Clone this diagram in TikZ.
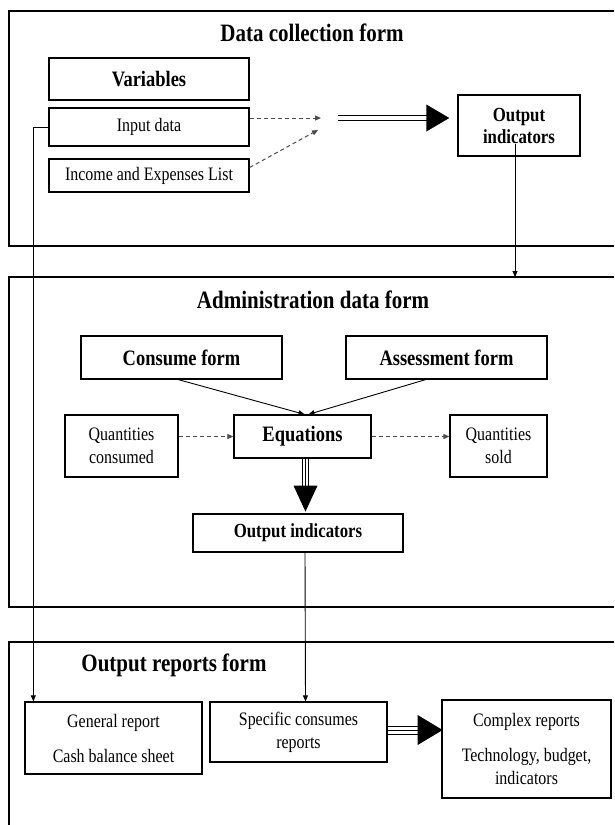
\documentclass[tikz,border=0pt]{standalone}
\usepackage{fontspec}
\setmainfont{Liberation Serif}[FakeStretch=0.84]
\usetikzlibrary{arrows.meta,calc}

\begin{document}
\begin{tikzpicture}[x=1pt,y=-1pt,>={Triangle[length=6pt,width=5pt]},
  frame/.style={line width=1.1pt},
  box/.style={draw,line width=1.3pt,inner sep=1pt,align=center},
  txt/.style={font=\fontsize{19}{23}\selectfont},
  btxt/.style={font=\bfseries\fontsize{22}{24}\selectfont},
  title/.style={font=\bfseries\fontsize{25}{27}\selectfont},
  dasharr/.style={->,dash pattern=on 4pt off 3pt,line width=1pt,black!70},
  dbl/.style={double,double distance=4pt,line width=1.1pt}]
  \useasboundingbox (0,0) rectangle (614,825);
  % Frames (open at the right)
  \draw[frame] (614,11) -- (9,11) -- (9,246) -- (614,246);
  \draw[frame] (614,277) -- (9,277) -- (9,607) -- (614,607);
  \draw[frame] (614,642) -- (9,642) -- (9,825);
  % Data collection form
  \node[title] at (312,33) {Data collection form};
  \node[box,btxt,minimum width=200,minimum height=42] (var) at (149,79) {Variables};
  \node[box,txt,minimum width=200,minimum height=38] (in) at (149,127) {Input data};
  \node[box,txt,minimum width=200,minimum height=33] (inc) at (149,175.5) {Income and Expenses List};
  \node[box,font=\bfseries\fontsize{20}{22}\selectfont,minimum width=122,minimum height=61] (out1) at (519,125.5) {Output\\indicators};
  \coordinate (join1) at (321,118);
  \coordinate (join2) at (318,130);
  \coordinate (dstart) at (338,118);
  \draw[dasharr] (in.east |- join1) -- (join1);
  \draw[dasharr] ($(inc.east)+(0,-8)$) -- (join2);
  \draw[dbl] (dstart) -- ($(dstart -| out1.west)+(-30,0)$);
  \fill ($(dstart -| out1.west)+(-8,0)$) -- ++(-23,-13.5) -- ++(0,27) -- cycle;
  % Administration data form
  \coordinate (f2top) at (515,277);
  \draw[->,line width=0.9pt] ($(out1.south)+(-4,-13)$) -- (f2top);
  \node[title] at (313,300) {Administration data form};
  \node[box,btxt,minimum width=201,minimum height=43] (cons) at (181.5,357.5) {Consume form};
  \node[box,btxt,minimum width=201,minimum height=43] (ass) at (446.5,357.5) {Assessment form};
  \node[box,txt,minimum width=113,minimum height=62] (qc) at (121.5,446) {Quantities\\consumed};
  \node[box,btxt,minimum width=137,minimum height=43] (eq) at (302.5,436.5) {Equations};
  \node[box,txt,minimum width=97,minimum height=62] (qs) at (498.5,446) {Quantities\\sold};
  \node[box,font=\bfseries\fontsize{20}{22}\selectfont,minimum width=210,minimum height=38] (out2) at (298,533) {Output indicators};
  \draw[->,line width=0.9pt] ($(cons.south)+(-3,0)$) -- ($(eq.north)+(2,0)$);
  \draw[->,line width=0.9pt] ($(ass.south)+(-21,0)$) -- ($(eq.north)+(6,0)$);
  \draw[dasharr] (qc.east |- eq.west) -- (eq.west);
  \draw[dasharr] (eq.east) -- (qs.west |- eq.east);
  \draw[double,double distance=4.5pt,line width=0.9pt] ($(eq.south)+(3,0)$) -- ($(eq.south)+(3,27)$);
  \draw[line width=0.9pt] ($(eq.south)+(3,0)$) -- ($(eq.south)+(3,27)$);
  \fill ($(eq.south)+(3,53)$) -- ++(-12,-26) -- ++(24,0) -- cycle;
  % Output reports form
  \node[title] at (174,665) {Output reports form};
  \node[box,txt,minimum width=177,minimum height=72] (gen) at (113.5,738) {General report\\[12pt]Cash balance sheet};
  \node[box,txt,minimum width=177,minimum height=60] (spec) at (298.5,732) {Specific consumes\\reports};
  \node[box,txt,minimum width=169,minimum height=98] (comp) at (526.5,749) {Complex reports\\[12pt]Technology, budget,\\indicators};
  \draw[->,line width=0.9pt] (in.west) -| ($(gen.north west)+(9,0)$);
  \draw[->,line width=0.9pt] ($(out2.south)+(7,0)$) -- ($(spec.north)+(7,0)$);
  \draw[double,double distance=7pt,line width=1pt] ($(spec.east)+(0,-2)$) -- ($(spec.east)+(31,-2)$);
  \draw[line width=1pt] ($(spec.east)+(0,-2)$) -- ($(spec.east)+(31,-2)$);
  \fill ($(spec.east)+(55,-2)$) -- ++(-25,-15) -- ++(0,30) -- cycle;
\end{tikzpicture}
\end{document}
